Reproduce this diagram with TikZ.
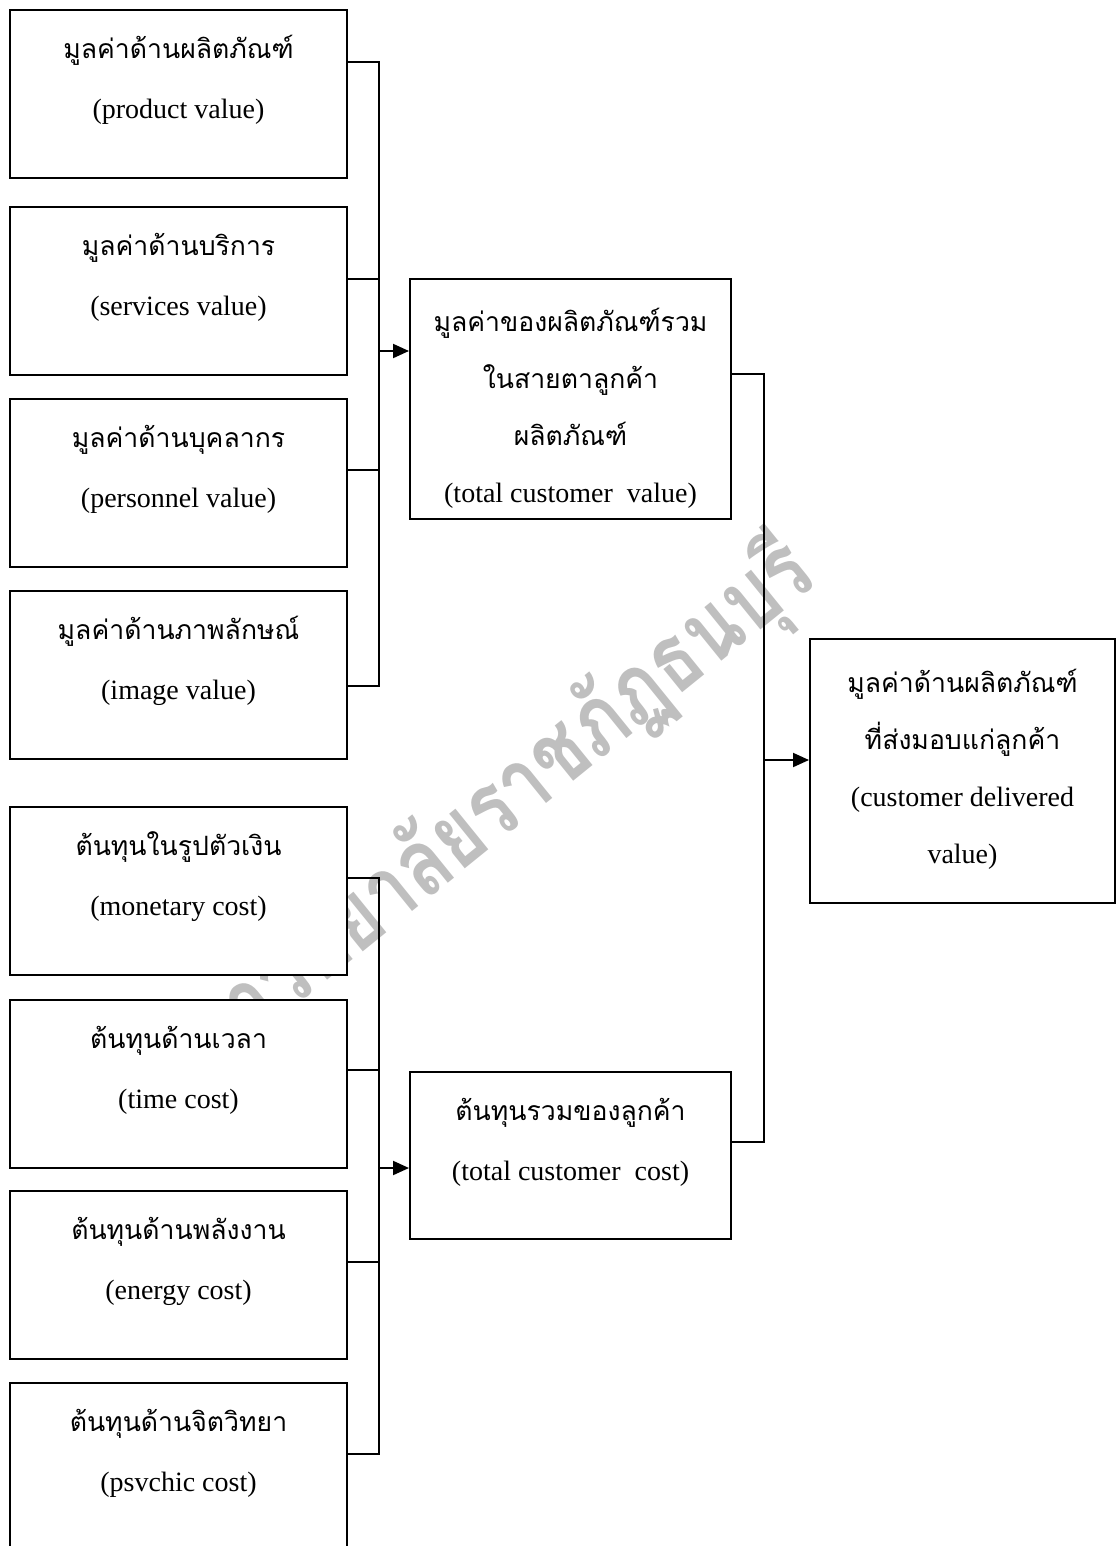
\documentclass[tikz,border=0pt]{standalone}
\usepackage{fontspec}
\setmainfont{Liberation Serif}
\newfontfamily\thaifont[Script=Thai, Scale=0.95]{Loma}
\newfontfamily\markfont[Script=Thai]{Loma}
\usetikzlibrary{arrows.meta}

\begin{document}
\begin{tikzpicture}[x=1pt, y=-1pt,
    line/.style={line width=2pt},
    box/.style={draw, line width=2pt, fill=white},
    txt/.style={align=center, font=\fontsize{28}{60}\selectfont},
    arr/.style={line, -{Triangle[length=16pt, width=14pt]}}]
  \useasboundingbox (0, 0) rectangle (1117, 1546);

  \node[rotate=39, xscale=0.8, anchor=base east, text=black!25, font=\markfont\bfseries\fontsize{94}{94}\selectfont] (w) at (822, 580){มหาวิทยาลัยราชภัฏธนบุรี};

  % left column
  \node[box, minimum width=337pt, minimum height=168pt] (1) at (178.5, 94){};
  \node[box, minimum width=337pt, minimum height=168pt] (2) at (178.5, 291){};
  \node[box, minimum width=337pt, minimum height=168pt] (3) at (178.5, 483){};
  \node[box, minimum width=337pt, minimum height=168pt] (4) at (178.5, 675){};
  \node[box, minimum width=337pt, minimum height=168pt] (5) at (178.5, 891){};
  \node[box, minimum width=337pt, minimum height=168pt] (6) at (178.5, 1084){};
  \node[box, minimum width=337pt, minimum height=168pt] (7) at (178.5, 1275){};
  \node[box, minimum width=337pt, minimum height=168pt] (8) at (178.5, 1467){};

  \node[txt] (t1) at ([yshift=14pt]1.center){{\thaifont มูลค่าด้านผลิตภัณฑ์}\\(product value)};
  \node[txt] (t2) at ([yshift=14pt]2.center){{\thaifont มูลค่าด้านบริการ}\\(services value)};
  \node[txt] (t3) at ([yshift=14pt]3.center){{\thaifont มูลค่าด้านบุคลากร}\\(personnel value)};
  \node[txt] (t4) at ([yshift=14pt]4.center){{\thaifont มูลค่าด้านภาพลักษณ์}\\(image value)};
  \node[txt] (t5) at ([yshift=14pt]5.center){{\thaifont ต้นทุนในรูปตัวเงิน}\\(monetary cost)};
  \node[txt] (t6) at ([yshift=14pt]6.center){{\thaifont ต้นทุนด้านเวลา}\\(time cost)};
  \node[txt] (t7) at ([yshift=14pt]7.center){{\thaifont ต้นทุนด้านพลังงาน}\\(energy cost)};
  \node[txt] (t8) at ([yshift=14pt]8.center){{\thaifont ต้นทุนด้านจิตวิทยา}\\(psvchic cost)};

  % middle and right
  \node[box, minimum width=321pt, minimum height=240pt] (9) at (570.5, 399){};
  \node[box, minimum width=321pt, minimum height=167pt] (10) at (570.5, 1155.5){};
  \node[box, minimum width=305pt, minimum height=264pt] (11) at (962.5, 771){};

  \node[txt, font=\fontsize{28}{57}\selectfont] (t9) at ([yshift=-9pt]9.center){{\thaifont มูลค่าของผลิตภัณฑ์รวม}\\{\thaifont ในสายตาลูกค้า}\\{\thaifont ผลิตภัณฑ์}\\(total customer\ \ value)};
  \node[txt] (t10) at ([yshift=13pt]10.center){{\thaifont ต้นทุนรวมของลูกค้า}\\(total customer\ \ cost)};
  \node[txt, font=\fontsize{28}{57}\selectfont] (t11) at ([yshift=2pt]11.center){{\thaifont มูลค่าด้านผลิตภัณฑ์}\\{\thaifont ที่ส่งมอบแก่ลูกค้า}\\(customer delivered\\value)};

  % brackets
  \coordinate (a) at (379, 351);
  \coordinate (b) at (379, 1168);
  \coordinate (c) at (764, 760);
  \foreach \n/\d in {1/53, 2/73, 3/72, 4/96}
    \draw[line] ([yshift=-\d pt]\n.north east) -| (a);
  \foreach \n/\d in {5/72, 6/71, 7/72, 8/72}
    \draw[line] ([yshift=-\d pt]\n.north east) -| (b);
  \draw[line] ([yshift=-96pt]9.north east) -| (c);
  \draw[line] ([yshift=-71pt]10.north east) -| (c);

  \draw[arr] (a) -- (a -| 9.west);
  \draw[arr] (b) -- (b -| 10.west);
  \draw[arr] (c) -- (c -| 11.west);
\end{tikzpicture}
\end{document}
